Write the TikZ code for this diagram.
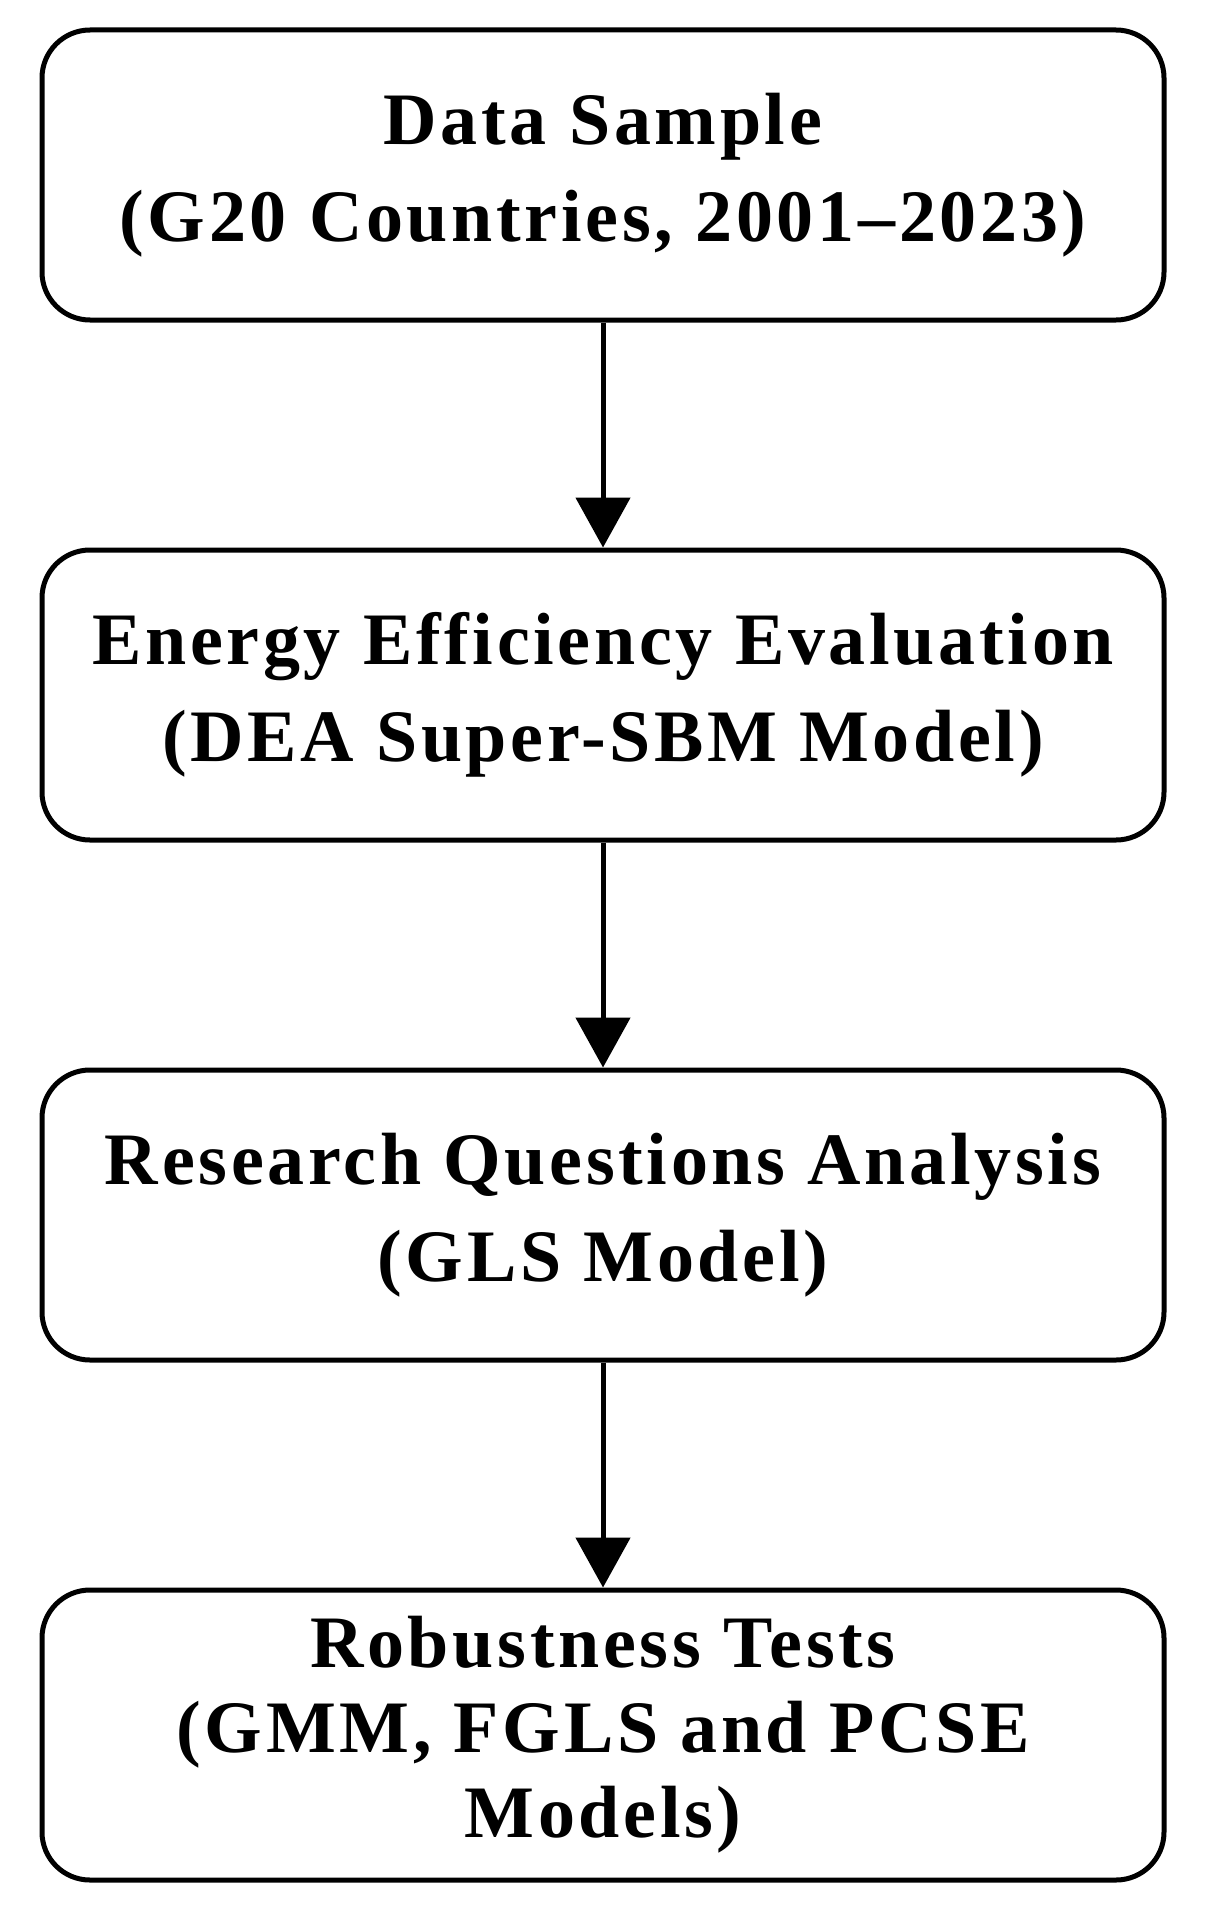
\documentclass[tikz,border=0pt]{standalone}
\usepackage{fontspec}
\setmainfont{Liberation Serif}[LetterSpace=5]
\usetikzlibrary{arrows.meta}
\begin{document}
\begin{tikzpicture}[x=1pt,y=-1pt,
  box/.style={draw,line width=5pt,rounded corners=48pt,minimum width=1122pt,minimum height=290pt,align=center,font=\fontsize{74}{97}\selectfont\bfseries},
  arr/.style={line width=5pt,-{Triangle[length=50pt,width=54pt]}}]
\useasboundingbox (0,0) rectangle (1209,1932);
\node[box] (a) at (603,175) {Data Sample\\(G20 Countries, 2001–2023)};
\node[box] (b) at (603,695) {Energy Efficiency Evaluation\\(DEA Super-SBM Model)};
\node[box] (c) at (603,1215) {Research Questions Analysis\\(GLS Model)};
\node[box,font=\fontsize{74}{85}\selectfont\bfseries] (d) at (603,1735) {Robustness Tests\\(GMM, FGLS and PCSE\\Models)};
\draw[arr] (a) -- (b);
\draw[arr] (b) -- (c);
\draw[arr] (c) -- (d);
\end{tikzpicture}
\end{document}
